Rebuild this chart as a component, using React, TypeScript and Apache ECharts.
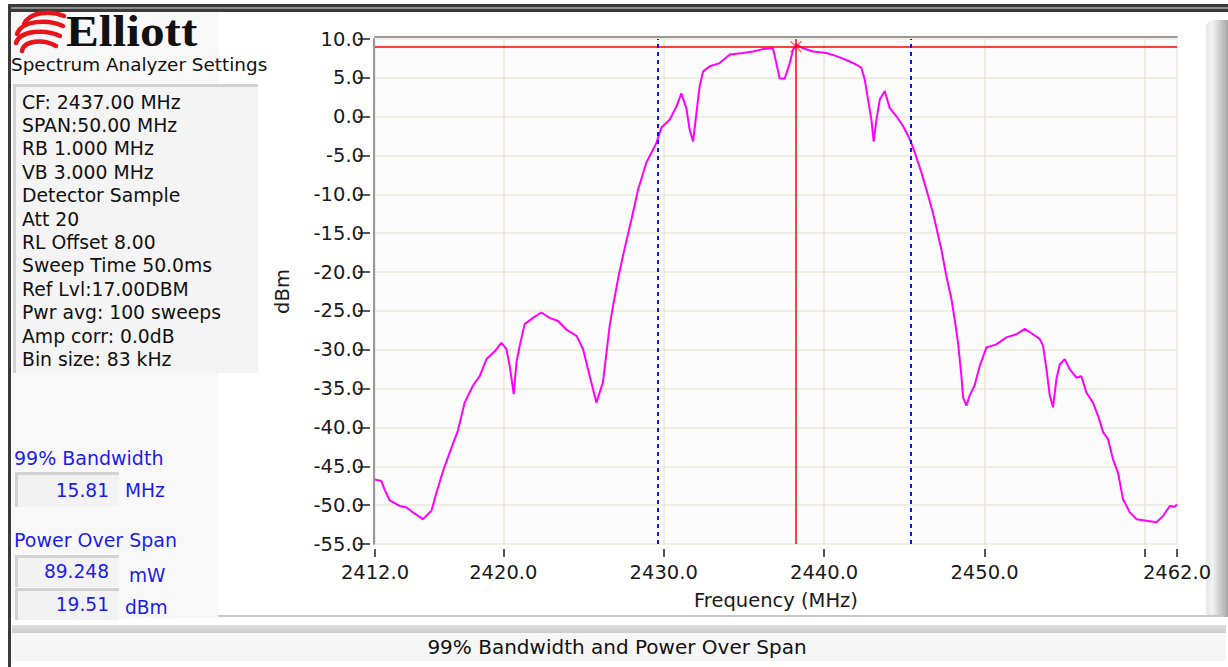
import React, { useEffect, useRef } from "react";
import * as echarts from "echarts";

// ---- trace data ----
const freqMHz = [
  2412.0, 2412.4, 2412.6, 2412.92, 2413.54, 2413.96, 2414.48, 2414.99, 2415.52, 2415.83,
  2416.24, 2416.66, 2417.17, 2417.59, 2418.11, 2418.53, 2418.95, 2419.47, 2419.88, 2420.19,
  2420.4, 2420.65, 2420.82, 2421.02, 2421.33, 2421.85, 2422.37, 2422.89, 2423.41, 2423.93,
  2424.56, 2424.97, 2425.39, 2425.8, 2426.21, 2426.46, 2426.63, 2426.84, 2427.15, 2427.46,
  2427.99, 2428.4, 2428.92, 2429.54, 2429.86, 2430.37, 2430.79, 2431.1, 2431.41, 2431.62,
  2431.83, 2432.04, 2432.24, 2432.45, 2432.87, 2433.49, 2434.12, 2434.94, 2435.57, 2436.19,
  2436.81, 2437.02, 2437.23, 2437.54, 2437.86, 2438.06, 2438.27, 2438.68, 2439.31, 2440.14,
  2440.77, 2441.39, 2442.01, 2442.32, 2442.53, 2442.74, 2442.95, 2443.09, 2443.26, 2443.47,
  2443.78, 2444.09, 2444.51, 2444.92, 2445.34, 2445.65, 2446.07, 2446.38, 2446.79, 2447.31,
  2447.62, 2447.94, 2448.14, 2448.35, 2448.56, 2448.66, 2448.87, 2449.07, 2449.38, 2449.7,
  2450.12, 2450.74, 2451.36, 2451.99, 2452.51, 2453.02, 2453.44, 2453.65, 2453.86, 2454.07,
  2454.27, 2454.48, 2454.69, 2455.0, 2455.31, 2455.73, 2456.04, 2456.35, 2456.76, 2457.08,
  2457.39, 2457.7, 2458.01, 2458.32, 2458.63, 2459.05, 2459.47, 2460.09, 2460.72, 2461.13,
  2461.55, 2461.86, 2462.0,
];
const levelDbm = [
  -46.7, -46.9, -48.0, -49.4, -50.1, -50.3, -51.1, -51.8, -50.7, -48.4,
  -45.6, -43.2, -40.4, -36.8, -34.6, -33.4, -31.2, -30.2, -29.1, -29.9,
  -32.1, -35.7, -31.6, -29.5, -26.7, -25.9, -25.2, -25.9, -26.3, -27.4,
  -28.2, -29.9, -33.4, -36.8, -34.2, -29.9, -26.9, -24.4, -20.9, -17.9,
  -13.2, -9.4, -5.9, -3.4, -1.4, -0.4, 1.3, 3.0, 1.1, -1.7,
  -3.2, 0.5, 3.9, 5.8, 6.5, 6.9, 8.0, 8.2, 8.4, 8.7,
  8.8, 6.9, 4.9, 4.9, 6.9, 8.6, 9.3, 8.8, 8.4, 8.2,
  7.8, 7.3, 6.7, 6.3, 4.8, 2.2, -0.4, -3.2, -0.4, 2.2,
  3.3, 1.1, 0.05, -1.2, -2.9, -4.6, -7.2, -9.4, -12.4, -17.1,
  -20.5, -23.5, -26.1, -29.1, -33.4, -36.1, -37.2, -35.9, -34.6, -32.1,
  -29.7, -29.3, -28.4, -28.0, -27.3, -28.0, -28.6, -29.5, -32.5, -35.9,
  -37.4, -33.8, -31.9, -31.2, -32.5, -33.6, -33.4, -35.5, -36.8, -38.5,
  -40.6, -41.5, -44.1, -45.8, -49.2, -50.9, -51.8, -52.0, -52.2, -51.4,
  -50.1, -50.2, -49.9,
];

// ---- axes ----
const xMin = 2412;
const xMax = 2462;
const xTickValues = [2412, 2420, 2430, 2440, 2450, 2460, 2462];
const xLabelValues = [2412, 2420, 2430, 2440, 2450, 2462];
const yMin = -55;
const yMax = 10;
const yStep = 5;

// ---- markers ----
const refLevelDbm = [9.0];
const peakMarker = [[2438.25, 9.0]];
const bandwidthEdges = [2429.6, 2445.41];

// ---- panel texts ----
const settingsLines = [
  "CF: 2437.00 MHz",
  "SPAN:50.00 MHz",
  "RB 1.000 MHz",
  "VB 3.000 MHz",
  "Detector Sample",
  "Att 20",
  "RL Offset 8.00",
  "Sweep Time 50.0ms",
  "Ref Lvl:17.00DBM",
  "Pwr avg: 100 sweeps",
  "Amp corr: 0.0dB",
  "Bin size: 83 kHz",
];
const resultValues = [
  { label: "99% Bandwidth", value: "15.81", unit: "MHz" },
  { label: "Power Over Span", value: "89.248", unit: "mW" },
  { label: "", value: "19.51", unit: "dBm" },
];
const statusText = "99% Bandwidth and Power Over Span";

const FONT = '"DejaVu Sans", Verdana, sans-serif';
const BLUE = "#1c1cf0";
const GRID = "#ece8d8";

function bevelBox(x: number, y: number, w: number, h: number, fill: string) {
  return [
    { type: "rect", silent: true, shape: { x, y, width: w, height: h }, style: { fill } },
    { type: "rect", silent: true, shape: { x, y, width: w, height: 3 }, style: { fill: "#d2d2d2" } },
    { type: "rect", silent: true, shape: { x, y, width: 3, height: h }, style: { fill: "#d2d2d2" } },
  ];
}

function buildGraphics() {
  const g: any[] = [];
  // outer frame lines
  g.push({ type: "rect", silent: true, shape: { x: 8, y: 4, width: 1220, height: 8 }, style: { fill: "#3a3a3a" } });
  g.push({ type: "rect", silent: true, shape: { x: 8, y: 7, width: 1220, height: 2 }, style: { fill: "#8e8e8e" } });
  g.push({ type: "rect", silent: true, shape: { x: 8, y: 4, width: 3, height: 663 }, style: { fill: "#3a3a3a" } });
  // left panel background
  g.push({ type: "rect", silent: true, shape: { x: 11, y: 12, width: 207, height: 606 }, style: { fill: "#f8f8f8" } });
  // right shaded bar
  g.push({
    type: "rect", silent: true,
    shape: { x: 1206, y: 20, width: 22, height: 597, r: [8, 0, 0, 0] },
    style: {
      fill: new echarts.graphic.LinearGradient(0, 0, 1, 0, [
        { offset: 0, color: "#e8e8e8" },
        { offset: 0.3, color: "#f2f2f2" },
        { offset: 1, color: "#a6a6a6" },
      ]),
    },
  });
  // logo swirl
  const swirl = [
    [24, 24, 30, 12, 50, 10, 64, 16],
    [17, 34, 22, 20, 48, 19, 63, 26],
    [16, 43, 20, 30, 46, 29, 60, 36],
    [22, 51, 24, 40, 44, 39, 56, 46],
  ];
  swirl.forEach((s) => {
    g.push({
      type: "bezierCurve", silent: true,
      shape: { x1: s[0], y1: s[1], cpx1: s[2], cpy1: s[3], cpx2: s[4], cpy2: s[5], x2: s[6], y2: s[7] },
      style: { stroke: "#e8141b", lineWidth: 4.5, fill: "none", lineCap: "round" },
    });
  });
  g.push({
    type: "text", silent: true, x: 66, y: 31, scaleX: 1.12,
    style: { text: "Elliott", fill: "#111", font: 'bold 44px "Liberation Serif", serif', align: "left", verticalAlign: "middle" },
  });
  g.push({
    type: "text", silent: true, x: 11, y: 64,
    style: { text: "Spectrum Analyzer Settings", fill: "#111", font: `18.4px ${FONT}`, align: "left", verticalAlign: "middle" },
  });
  // settings box
  g.push(...bevelBox(13, 84, 245, 289, "#f4f4f4"));
  settingsLines.forEach((t, i) => {
    g.push({
      type: "text", silent: true, x: 22, y: 102 + i * 23.4,
      style: { text: t, fill: "#111", font: `18.8px ${FONT}`, align: "left", verticalAlign: "middle" },
    });
  });
  // result boxes
  const boxY = [472, 555, 588];
  const boxH = [35, 32, 32];
  const valY = [490, 571, 604];
  const unitX = [125, 129, 125];
  const unitY = [490, 575, 607];
  const labelY = [458, 540, 0];
  resultValues.forEach((r, i) => {
    if (r.label) {
      g.push({
        type: "text", silent: true, x: 14, y: labelY[i],
        style: { text: r.label, fill: BLUE, font: `19px ${FONT}`, align: "left", verticalAlign: "middle" },
      });
    }
    g.push(...bevelBox(15, boxY[i], 104, boxH[i], "#f2f2f2"));
    g.push({
      type: "text", silent: true, x: 109, y: valY[i],
      style: { text: r.value, fill: BLUE, font: `18.6px ${FONT}`, align: "right", verticalAlign: "middle" },
    });
    g.push({
      type: "text", silent: true, x: unitX[i], y: unitY[i],
      style: { text: r.unit, fill: BLUE, font: `18.6px ${FONT}`, align: "left", verticalAlign: "middle" },
    });
  });
  // status bar
  g.push({ type: "rect", silent: true, shape: { x: 218, y: 615, width: 1006, height: 2 }, style: { fill: "#c8c8c8" } });
  g.push({
    type: "rect", silent: true, shape: { x: 12, y: 625, width: 1214, height: 8 },
    style: {
      fill: new echarts.graphic.LinearGradient(0, 0, 0, 1, [
        { offset: 0, color: "#dcdcdc" },
        { offset: 1, color: "#cdcdcd" },
      ]),
    },
  });
  g.push({ type: "rect", silent: true, shape: { x: 12, y: 633, width: 1214, height: 28 }, style: { fill: "#f6f6f6" } });
  g.push({
    type: "text", silent: true, x: 617, y: 647,
    style: { text: statusText, fill: "#111", font: `20px ${FONT}`, align: "center", verticalAlign: "middle" },
  });
  return g;
}

export default function App() {
  const ref = useRef<HTMLDivElement>(null);
  useEffect(() => {
    if (!ref.current) return;
    const chart = echarts.init(ref.current, null, { renderer: "svg" });
    const trace = freqMHz.map((f, i) => [f, levelDbm[i]]);
    const axisText = { color: "#1a1a1a", fontSize: 19.5, fontFamily: FONT };
    chart.setOption({
      animation: false,
      backgroundColor: "#ffffff",
      graphic: buildGraphics(),
      grid: {
        left: 375, right: 51, top: 39, bottom: 123,
        show: true, backgroundColor: "#fcfcfc", borderWidth: 0,
      },
      xAxis: [
        {
          type: "value", min: xMin, max: xMax, position: "bottom", offset: 5,
          axisLine: { show: false, onZero: false },
          axisTick: { show: true, length: 8, customValues: xTickValues, lineStyle: { color: "#222", width: 1.5 } },
          axisLabel: { ...axisText, margin: 13, customValues: xLabelValues, formatter: (v: number) => v.toFixed(1) },
          splitLine: { show: true, lineStyle: { color: GRID, width: 1.5 } },
          name: "Frequency (MHz)", nameLocation: "middle", nameGap: 41,
          nameTextStyle: { ...axisText },
        },
        {
          type: "value", min: xMin, max: xMax, position: "top", offset: 2,
          axisLine: { show: true, onZero: false, lineStyle: { color: "#999999", width: 2 } },
          axisTick: { show: false }, axisLabel: { show: false }, splitLine: { show: false },
        },
      ],
      yAxis: [
        {
          type: "value", min: yMin, max: yMax, interval: yStep, position: "left", offset: 5,
          axisLine: { show: false, onZero: false },
          axisTick: { show: true, length: 12, lineStyle: { color: "#222", width: 1.5 } },
          axisLabel: { ...axisText, margin: 6, formatter: (v: number) => v.toFixed(1) },
          splitLine: { show: true, lineStyle: { color: GRID, width: 1.5 } },
          name: "dBm", nameLocation: "middle", nameGap: 78, nameRotate: 90,
          nameTextStyle: { ...axisText },
        },
        {
          type: "value", min: yMin, max: yMax, interval: yStep, position: "left", offset: 1,
          axisLine: { show: true, onZero: false, lineStyle: { color: "#999999", width: 2 } },
          axisTick: { show: false }, axisLabel: { show: false }, splitLine: { show: false },
        },
      ],
      series: [
        {
          type: "line", data: trace, symbol: "none", xAxisIndex: 0, yAxisIndex: 0,
          lineStyle: { color: "#ff00ff", width: 2 },
          markLine: {
            silent: true, symbol: "none", label: { show: false }, animation: false,
            data: [
              { yAxis: refLevelDbm[0], lineStyle: { color: "#ff0000", width: 1.5, type: "solid" } },
              { xAxis: peakMarker[0][0], lineStyle: { color: "#ff0000", width: 1.5, type: "solid" } },
              ...bandwidthEdges.map((f) => ({ xAxis: f, lineStyle: { color: "#1010ff", width: 2, type: [4, 4] } })),
            ],
          },
        },
        {
          type: "scatter", data: peakMarker, xAxisIndex: 0, yAxisIndex: 0,
          symbol: "path://M0 0L10 10M10 0L0 10", symbolSize: 11,
          itemStyle: { color: "transparent", borderColor: "#ff4a2a", borderWidth: 1.5 },
        },
      ],
    });
    return () => chart.dispose();
  }, []);
  return <div ref={ref} style={{ position: "fixed", left: 0, top: 0, width: 1228, height: 667 }} />;
}
